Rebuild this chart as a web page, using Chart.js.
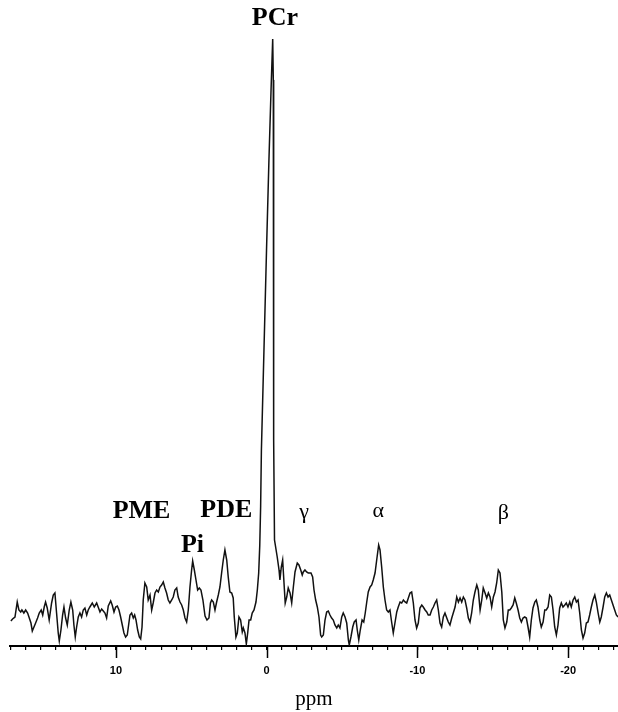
<!DOCTYPE html>
<html>
<head>
<meta charset="utf-8">
<script src="https://cdn.jsdelivr.net/npm/chart.js@4/dist/chart.umd.min.js"></script>
<style>
html,body{margin:0;padding:0;background:#fff;}
#wrap{width:618px;height:712px;position:relative;}
</style>
</head>
<body>
<div id="wrap"><canvas id="c" width="618" height="712"></canvas></div>
<script>
// Chemical shift (ppm) of each traced point
const PPM = [
16.97,16.86,16.70,16.55,16.44,16.32,16.24,16.11,15.99,15.86,15.75,15.64,15.55,15.44,15.33,15.20,15.09,14.96,14.86,14.76,
14.67,14.56,14.43,14.27,14.16,14.05,13.94,13.83,13.76,13.65,13.54,13.45,13.34,13.23,13.10,12.99,12.87,12.79,12.70,12.61,
12.50,12.39,12.28,12.17,12.06,11.94,11.84,11.73,11.57,11.44,11.28,11.18,11.06,10.95,10.84,10.73,10.62,10.51,
10.35,10.25,10.13,10.02,9.91,9.80,9.69,9.58,9.47,9.36,9.25,9.16,9.07,8.96,8.85,8.76,8.67,8.56,8.45,8.36,8.27,8.19,
8.08,7.96,7.86,7.74,7.63,7.53,7.41,7.30,7.19,7.08,6.97,6.86,6.75,6.64,6.53,6.42,6.30,6.20,6.09,5.97,
5.87,5.75,5.64,5.53,5.42,5.31,5.20,5.09,4.98,4.91,4.80,4.69,4.58,4.47,4.36,4.23,4.09,3.96,3.83,3.73,
3.65,3.54,3.43,3.32,3.21,3.10,2.99,2.88,2.77,2.65,2.55,2.44,2.32,2.22,2.15,2.04,1.95,1.84,1.73,1.62,
1.55,1.44,1.35,1.26,1.17,1.06,0.96,0.84,0.71,0.62,0.53,0.46,0.40,0.35,0.18,0.01,-0.15,-0.29,-0.40,-0.44,
-0.45,-0.46,-0.48,-0.52,-0.70,-0.82,-0.88,-0.97,-1.06,-1.15,-1.23,-1.33,-1.43,-1.55,-1.66,-1.77,-1.88,-2.03,-2.14,-2.26,
-2.36,-2.43,-2.54,-2.65,-2.76,-2.94,-3.05,-3.14,-3.25,-3.36,-3.47,-3.58,-3.65,-3.76,-3.87,-3.98,-4.09,-4.20,-4.31,-4.42,
-4.53,-4.65,-4.75,-4.86,-4.98,-5.08,-5.20,-5.31,-5.42,-5.48,-5.59,-5.71,-5.81,-5.93,-6.01,-6.11,-6.21,-6.33,-6.44,-6.54,
-6.64,-6.74,-6.86,-6.97,-7.07,-7.19,-7.30,-7.43,-7.52,-7.63,-7.74,-7.85,-7.96,-8.07,-8.18,-8.30,-8.40,-8.51,-8.63,-8.73,
-8.85,-8.96,-9.07,-9.18,-9.29,-9.40,-9.51,-9.62,-9.73,-9.84,-9.95,-10.06,-10.17,-10.29,-10.39,-10.51,-10.62,-10.72,-10.84,-10.95,
-11.06,-11.17,-11.28,-11.39,-11.50,-11.61,-11.72,-11.83,-11.95,-12.05,-12.16,-12.28,-12.38,-12.50,-12.61,-12.72,-12.83,-12.94,-13.05,-13.16,
-13.27,-13.38,-13.49,-13.60,-13.71,-13.82,-13.94,-14.04,-14.16,-14.27,-14.37,-14.49,-14.60,-14.71,-14.82,-14.93,-15.04,-15.15,-15.26,-15.37,
-15.48,-15.60,-15.70,-15.81,-15.93,-16.03,-16.13,-16.23,-16.35,-16.46,-16.56,-16.68,-16.79,-16.90,-17.01,-17.12,-17.23,-17.34,-17.45,-17.56,
-17.67,-17.79,-17.89,-18.00,-18.12,-18.22,-18.34,-18.45,-18.55,-18.67,-18.78,-18.89,-19.00,-19.11,-19.22,-19.33,-19.44,-19.55,-19.66,-19.78,
-19.88,-19.99,-20.11,-20.21,-20.33,-20.44,-20.55,-20.66,-20.77,-20.88,-20.99,-21.10,-21.21,-21.32,-21.43,-21.54,-21.65,-21.77,-21.87,-21.99,
-22.10,-22.20,-22.32,-22.43,-22.54,-22.65,-22.76,-22.87,-22.98,-23.09,-23.20,-23.31
];
// Signal intensity (arbitrary units) of each traced point
const INTENSITY = [
25,27,29,44,36,34,36,33,36,33,28,23,15,19,23,28,33,36,31,39,
44,38,26,43,51,53,33,13,5,16,31,39,28,21,36,44,36,21,9,19,
29,33,29,36,38,31,36,39,43,39,43,39,34,37,35,33,28,40,
45,41,34,39,40,36,29,21,13,9,11,21,31,33,28,31,26,16,9,7,19,46,
63,59,46,51,36,43,53,56,54,59,61,64,58,53,46,43,46,49,56,58,
49,44,41,36,28,24,36,59,76,85,76,66,56,58,56,46,30,26,28,43,
46,44,36,44,51,59,73,86,96,86,69,54,53,48,29,9,13,29,26,14,
18,13,2,13,26,26,33,36,44,56,73,100,140,196,296,396,486,556,607,566,
446,326,206,106,89,76,66,79,86,63,43,49,58,53,43,59,74,83,81,76,
71,74,76,74,73,73,69,56,46,39,29,11,9,11,26,34,35,31,28,26,
21,18,21,18,29,33,29,23,6,1,9,19,24,26,16,6,16,26,24,33,
44,54,59,61,66,73,86,101,96,79,59,46,36,34,36,23,13,23,34,39,
44,43,46,44,43,48,53,54,43,26,18,23,38,41,39,36,34,31,31,36,
39,43,46,36,23,19,29,33,28,24,21,28,33,39,49,44,48,44,49,46,
38,28,24,33,46,54,61,56,36,46,58,53,48,53,49,39,49,54,63,76,
73,54,26,18,24,36,36,38,41,48,43,36,28,24,28,29,28,19,9,26,
38,44,46,39,26,19,24,36,36,39,51,49,36,19,11,21,38,43,39,41,
43,39,44,39,46,49,44,46,33,16,8,13,23,24,31,39,46,51,44,33,
24,29,39,49,53,49,51,46,41,36,31,29
];
// Axis tick values and labels
const MINOR_TICKS = [];
for (let v = -23; v <= 17; v++) MINOR_TICKS.push(v);
const MAJOR_TICKS = [10, 0, -10, -20];
const MAJOR_LABELS = ['10', '0', '-10', '-20'];
const AXIS_TITLE = 'ppm';
// Peak assignments: text, chemical shift and intensity at the label baseline
const PEAK_NAMES = ['PCr', 'PME', 'PDE', 'Pi', 'γ', 'α', 'β'];
const PEAK_PPM = [-0.55, 8.30, 2.68, 4.92, -2.48, -7.41, -15.71];
const PEAK_LEVEL = [621, 128, 129, 94, 128, 129, 127];
const PEAK_BOLD = [true, true, true, true, false, false, false];

const points = PPM.map((x, i) => ({x: x, y: INTENSITY[i]}));

const labelPlugin = {
  id: 'peakLabels',
  afterDraw(chart) {
    const ctx = chart.ctx;
    const xs = chart.scales.x, ys = chart.scales.y;
    ctx.save();
    // longer major ticks
    ctx.strokeStyle = '#000';
    ctx.lineWidth = 1.5;
    MAJOR_TICKS.forEach(v => {
      const px = Math.round(xs.getPixelForValue(v)) + 0.5;
      ctx.beginPath();
      ctx.moveTo(px, xs.top);
      ctx.lineTo(px, xs.top + 12);
      ctx.stroke();
    });
    ctx.fillStyle = '#000';
    ctx.textAlign = 'center';
    ctx.textBaseline = 'alphabetic';
    PEAK_NAMES.forEach((t, i) => {
      ctx.font = PEAK_BOLD[i] ? 'bold 26px "Liberation Serif", "DejaVu Serif", serif'
                              : '22px "Liberation Serif", "DejaVu Serif", serif';
      ctx.fillText(t, xs.getPixelForValue(PEAK_PPM[i]), ys.getPixelForValue(PEAK_LEVEL[i]));
    });
    ctx.restore();
  }
};

new Chart(document.getElementById('c'), {
  type: 'line',
  data: {
    datasets: [{
      data: points,
      borderColor: '#111',
      borderWidth: 1.5,
      pointRadius: 0,
      tension: 0,
      fill: false
    }]
  },
  options: {
    responsive: false,
    animation: false,
    devicePixelRatio: 1,
    layout: {padding: {top: 30, left: 10, right: 0, bottom: 0}},
    plugins: {legend: {display: false}, tooltip: {enabled: false}},
    scales: {
      x: {
        type: 'linear',
        reverse: true,
        min: -23.31,
        max: 17.03,
        afterBuildTicks: (scale) => { scale.ticks = MINOR_TICKS.map(v => ({value: v})); },
        border: {display: true, color: '#000', width: 2},
        grid: {display: true, drawOnChartArea: false, drawTicks: true, tickLength: 4, color: '#000', lineWidth: 1.2},
        ticks: {
          autoSkip: false,
          maxRotation: 0,
          padding: 14,
          color: '#000',
          font: {family: '"Liberation Sans", Arial, sans-serif', size: 11, weight: 'bold'},
          callback: (v) => {
            const k = MAJOR_TICKS.indexOf(v);
            return k >= 0 ? MAJOR_LABELS[k] : '';
          }
        },
        title: {
          display: true,
          text: AXIS_TITLE,
          color: '#000',
          font: {family: '"Liberation Serif", serif', size: 21, lineHeight: 0.8},
          padding: {top: 0, bottom: 4}
        }
      },
      y: {
        display: false,
        min: 0,
        max: 616
      }
    }
  },
  plugins: [labelPlugin]
});
</script>
</body>
</html>
